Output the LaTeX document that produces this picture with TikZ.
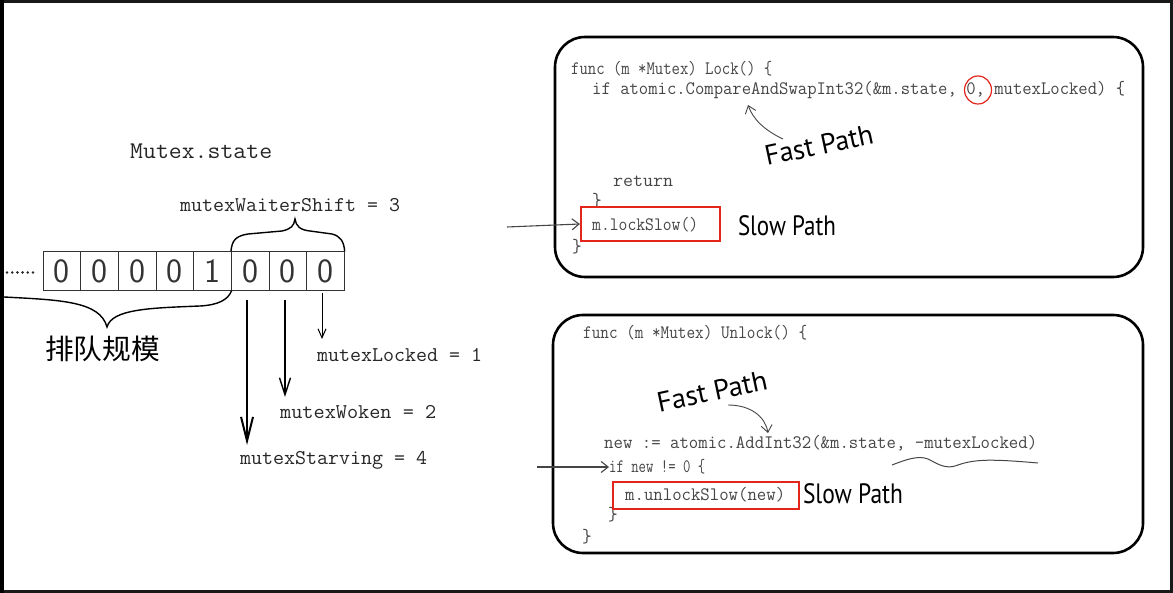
\documentclass[tikz,border=0pt]{standalone}
\usepackage{fontspec}
\usepackage{graphicx}
\usetikzlibrary{arrows.meta,shapes.geometric}
\newfontfamily\cjkfont{Noto Sans CJK SC}
\newfontfamily\handfont{PT Sans}
% scale a text horizontally to a given width (in pt), keeping its height
\newcommand\fitw[2]{\resizebox{#1pt}{\height}{#2}}
\definecolor{codegray}{HTML}{454545}
\definecolor{markred}{HTML}{E2261C}

\begin{document}
\begin{tikzpicture}[x=1pt,y=-1pt,
  code/.style={anchor=west, inner sep=0pt, text=codegray, font=\fontsize{19}{19}\selectfont\ttfamily},
  lbl/.style={anchor=west, inner sep=0pt, text=black!85, font=\fontsize{21}{21}\selectfont\ttfamily},
  hand/.style={inner sep=0pt, text=black, font=\fontsize{28}{28}\selectfont\handfont},
  cell/.style={draw=black!80, line width=0.8pt, minimum width=37.6pt, minimum height=38.4pt, inner sep=0pt, text=black!80, font=\fontsize{34}{34}\selectfont\sffamily},
  panel/.style={draw=black, line width=2.6pt, rounded corners=30pt, minimum width=588pt, minimum height=240pt, inner sep=0pt},
  redbox/.style={draw=markred, line width=2.2pt, inner sep=0pt},
  barb/.style={-{Straight Barb[length=7pt,width=11pt]}, line width=1.1pt, draw=codegray},
  bitarrow/.style={line width=#1, draw=black},
  brace/.style={line width=1.4pt, draw=black}
]
\useasboundingbox (0,0) rectangle (1173,593);

% outer frame
\draw[line width=3pt, black!90] (1.5,1.5) rectangle (1171.5,591.5);
\fill[black] (0,0) rectangle (4,593);

% ---------- the state word ----------
\node[lbl, font=\fontsize{24}{24}\selectfont\ttfamily] (title) at (130,151) {\fitw{142}{Mutex.state}};

\foreach \i/\d in {1/0,2/0,3/0,4/0,5/1,6/0,7/0,8/0}
  \node[cell] (c\i) at (43+37.66*\i-18.83, 271) {\d};

\foreach \i in {0,...,5}
  \fill[black!85] (7+\i*5.2, 272.5) circle (1.4pt);

% brace over the low three bits
\node[lbl] (shift) at (180,205) {\fitw{220}{mutexWaiterShift = 3}};
\draw[brace] (c6.north west) .. controls (232,240) and (236,236) .. (248,234)
  -- (282,231) .. controls (291,229) and (294,226) .. (295,219)
  .. controls (296,226) and (300,230) .. (310,231)
  -- (332,234) .. controls (340,236) and (344,241) .. (c8.north east);

% brace under the waiter count
\coordinate (braceL) at (4,297);
\draw[brace] (braceL) .. controls (60,300) and (100,301) .. (107,327)
  .. controls (112,309) and (150,308) .. (200,306)
  .. controls (218,305) and (228,300) .. (c5.south east);
\node[inner sep=0pt, anchor=west, font=\fontsize{28}{28}\selectfont\cjkfont] (queue) at (45,349) {\fitw{115}{排队规模}};

% flag bits
\node[lbl] (locked) at (317,355) {\fitw{165}{mutexLocked = 1}};
\node[lbl] (woken) at (280,412) {\fitw{156}{mutexWoken = 2}};
\node[lbl] (starving) at (240,460) {\fitw{187}{mutexStarving = 4}};

\coordinate (a1s) at (247,300); \coordinate (a1e) at (247,445);
\coordinate (a2s) at (285,300); \coordinate (a2e) at (285,397);
\coordinate (a3s) at (322,293); \coordinate (a3e) at (322,339);
\draw[bitarrow=2pt, -{Straight Barb[length=24pt,width=12pt]}] (a1s) -- (a1e);
\draw[bitarrow=1.4pt, -{Straight Barb[length=17pt,width=11pt]}] (a2s) -- (a2e);
\draw[bitarrow=1pt, -{Straight Barb[length=9pt,width=8pt]}] (a3s) -- (a3e);

% ---------- Lock ----------
\node[panel] (lockpanel) at (849,157) {};
\node[code] (l1) at (571,69) {\fitw{201}{func (m *Mutex) Lock() \{}};
\node[code] (l2) at (592,90) {\fitw{533}{if atomic.CompareAndSwapInt32(\&m.state, 0, mutexLocked) \{}};
\node[code] (l3) at (613,181) {\fitw{60}{return}};
\node[code] (l4) at (592,201) {\}};
\node[code] (l5) at (592,225) {\fitw{106}{m.lockSlow()}};
\node[code] (l6) at (572,247) {\}};
\node[draw=markred, line width=1.2pt, ellipse, minimum width=27pt, minimum height=28pt, inner sep=0pt] (zero) at (978,90) {};
\node[redbox, minimum width=139pt, minimum height=34pt] (lockslow) at (650.5,224) {};

\node[hand, rotate=12] (fast1) at (819,145) {\fitw{110}{Fast Path}};
\coordinate (f1s) at (783,139);
\coordinate (f1e) at (748,105);
\draw[barb, line width=0.9pt] (f1s) .. controls (764,130) and (753,119) .. (f1e);

\node[hand] (slow1) at (787,226) {\fitw{98}{Slow Path}};
\coordinate (in1) at (507,227);
\draw[barb] (in1) -- (lockslow.west);

% ---------- Unlock ----------
\node[panel, minimum width=590pt, minimum height=238pt] (unlockpanel) at (848,434) {};
\node[code] (u1) at (583,333) {\fitw{224}{func (m *Mutex) Unlock() \{}};
\node[code] (u2) at (604,443) {\fitw{433}{new := atomic.AddInt32(\&m.state, -mutexLocked)}};
\node[code] (u3) at (609,467) {\fitw{96}{if new != 0 \{}};
\node[code] (u4) at (625,495) {\fitw{160}{m.unlockSlow(new)}};
\node[code] (u5) at (608,515) {\}};
\node[code] (u6) at (582,537) {\}};
\node[redbox, minimum width=186pt, minimum height=27pt] (unlockslow) at (706,495.5) {};

\node[hand, rotate=12] (fast2) at (712,391) {\fitw{112}{Fast Path}};
\coordinate (f2s) at (728,405);
\coordinate (f2e) at (768,433);
\draw[barb, line width=0.9pt] (f2s) .. controls (750,405) and (765,416) .. (f2e);

\coordinate (w0) at (892,465);
\coordinate (w1) at (1038,463);
\draw[codegray, line width=1pt] (w0) .. controls (905,460) and (918,455) .. (928,459)
  .. controls (938,464) and (946,470) .. (958,465)
  .. controls (975,459) and (992,459) .. (w1);

\node[hand] (slow2) at (853,494) {\fitw{100}{Slow Path}};
\coordinate (in2) at (537,467);
\draw[barb] (in2) -- (u3.west);
\end{tikzpicture}
\end{document}
